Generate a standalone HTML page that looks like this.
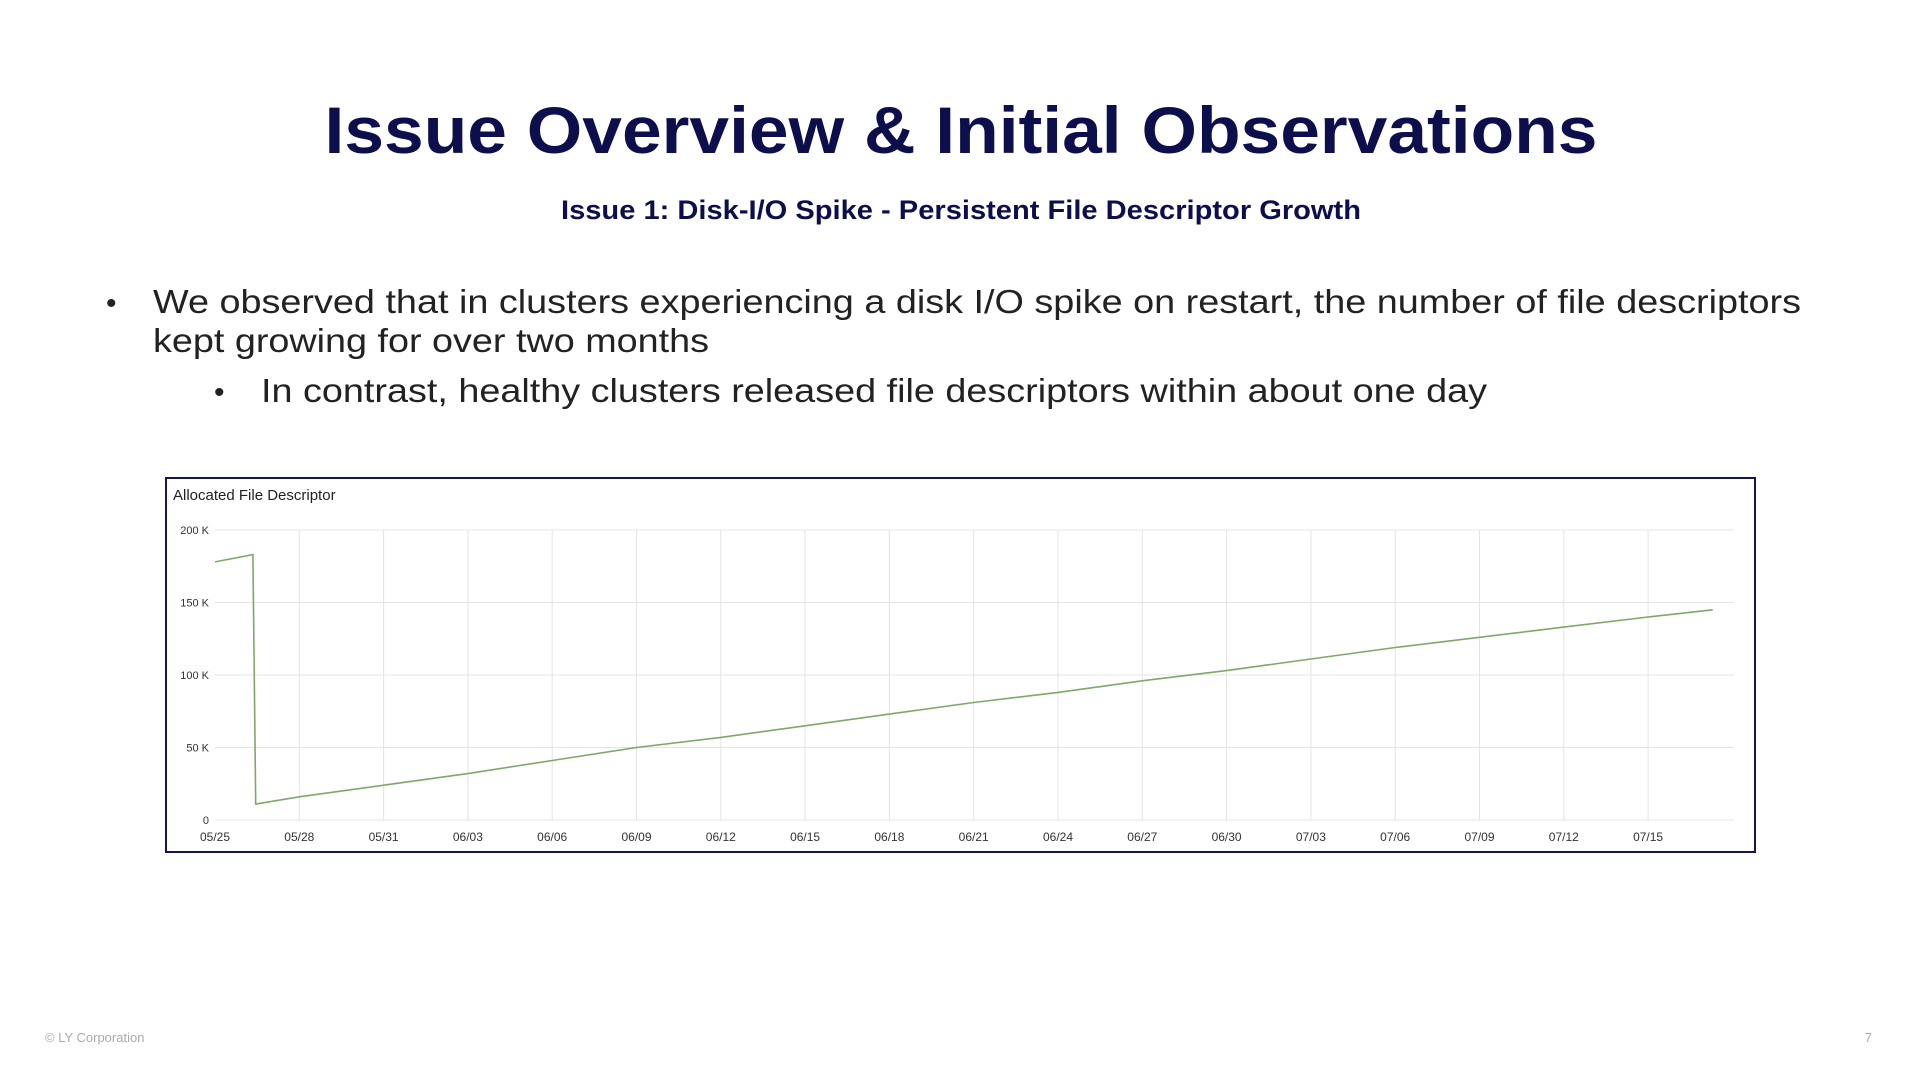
<!DOCTYPE html>
<html><head><meta charset="utf-8">
<style>
html,body{margin:0;padding:0;background:#fff;}
body{width:1920px;height:1080px;overflow:hidden;font-family:"Liberation Sans",sans-serif;}
</style></head>
<body>
<svg width="1920" height="1080" viewBox="0 0 1920 1080" xmlns="http://www.w3.org/2000/svg" font-family="Liberation Sans, sans-serif">
  <text x="961" y="153" text-anchor="middle" font-size="66" font-weight="bold" fill="#0d0f4d" textLength="1273" lengthAdjust="spacingAndGlyphs">Issue Overview &amp; Initial Observations</text>
  <text x="961" y="219" text-anchor="middle" font-size="27" font-weight="bold" fill="#0d0f4d" textLength="800" lengthAdjust="spacingAndGlyphs">Issue 1: Disk-I/O Spike - Persistent File Descriptor Growth</text>
  <text x="106" y="313" font-size="30" fill="#222">•</text>
  <text x="153" y="313" font-size="33" fill="#222" textLength="1648" lengthAdjust="spacingAndGlyphs">We observed that in clusters experiencing a disk I/O spike on restart, the number of file descriptors</text>
  <text x="153" y="352" font-size="33" fill="#222" textLength="556" lengthAdjust="spacingAndGlyphs">kept growing for over two months</text>
  <text x="214" y="402" font-size="30" fill="#222">•</text>
  <text x="261" y="402" font-size="33" fill="#222" textLength="1226" lengthAdjust="spacingAndGlyphs">In contrast, healthy clusters released file descriptors within about one day</text>

  <rect x="166" y="478" width="1589" height="374" fill="#fff" stroke="#14174f" stroke-width="2"/>
  <text x="173" y="500" font-size="15" fill="#222">Allocated File Descriptor</text>
  <g id="grid"></g>
  <g id="ylabels"></g>
  <g id="xlabels"></g>
  <path id="series" fill="none" stroke="#7fa868" stroke-width="1.6"/>

  <text x="45" y="1042" font-size="13" fill="#aaa">© LY Corporation</text>
  <text x="1872" y="1042" font-size="13" fill="#aaa" text-anchor="end">7</text>
</svg>
<script>
const xTickLabels = ["05/25","05/28","05/31","06/03","06/06","06/09","06/12","06/15","06/18","06/21","06/24","06/27","06/30","07/03","07/06","07/09","07/12","07/15"];
const yTicks = [0,50000,100000,150000,200000];
const yTickLabels = ["0","50 K","100 K","150 K","200 K"];
const dayOffsets = [0,1.35,1.45,3,6,9,12,15,18,21,24,27,30,33,36,39,42,45,48,51,53.3];
const fdValues = [178000,183000,11000,16000,24000,32000,41000,50000,57000,65000,73000,81000,88000,96000,103000,111000,119000,126000,133000,140000,145000];

const X0=215, PXDAY=28.1, XR=1734, Y0=820, YTOP=530, YMAX=200000;
const xs = d => X0 + d*PXDAY;
const ys = v => Y0 - v/YMAX*(Y0-YTOP);
const NS="http://www.w3.org/2000/svg";
const grid=document.getElementById('grid'), yl=document.getElementById('ylabels'), xl=document.getElementById('xlabels');
yTicks.forEach((v,i)=>{
  const l=document.createElementNS(NS,'line');
  
  
  l.setAttribute('x1',X0);l.setAttribute('x2',XR);l.setAttribute('y1',ys(v));l.setAttribute('y2',ys(v));
  l.setAttribute('stroke','#e4e4e4');l.setAttribute('stroke-width','1');grid.appendChild(l);
  const t=document.createElementNS(NS,'text');
  
  
  t.setAttribute('x',209);t.setAttribute('y',ys(v)+4);t.setAttribute('text-anchor','end');
  t.setAttribute('font-size','11');t.setAttribute('fill','#333');t.textContent=yTickLabels[i];yl.appendChild(t);
});
xTickLabels.forEach((s,i)=>{
  const x=xs(i*3);
  if(i>0){
    const l=document.createElementNS(NS,'line');
    
    
    l.setAttribute('x1',x);l.setAttribute('x2',x);l.setAttribute('y1',YTOP);l.setAttribute('y2',Y0);
    l.setAttribute('stroke','#e4e4e4');l.setAttribute('stroke-width','1');grid.appendChild(l);
  }
  const t=document.createElementNS(NS,'text');
  
  
  t.setAttribute('x',x);t.setAttribute('y',841);t.setAttribute('text-anchor','middle');
  t.setAttribute('font-size','12');t.setAttribute('fill','#333');t.textContent=s;xl.appendChild(t);
});
document.getElementById('series').setAttribute('d',dayOffsets.map((d,i)=>(i?'L':'M')+xs(d).toFixed(1)+','+ys(fdValues[i]).toFixed(1)).join(' '));
</script>
</body></html>
